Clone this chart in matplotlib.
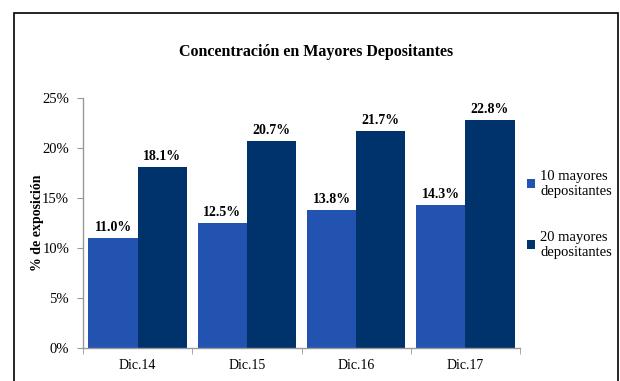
import matplotlib
matplotlib.use("Agg")
import matplotlib.pyplot as plt
from matplotlib.patches import Rectangle
import numpy as np

categories = ["Dic.14", "Dic.15", "Dic.16", "Dic.17"]
top10 = [11.0, 12.5, 13.8, 14.3]
top20 = [18.1, 20.7, 21.7, 22.8]
series_names = ["10 mayores\ndepositantes", "20 mayores\ndepositantes"]
yticks = [0, 5, 10, 15, 20, 25]

c_light = "#2353B0"
c_dark = "#00326B"

plt.rcParams["font.family"] = ["Liberation Serif", "DejaVu Serif"]

fig = plt.figure(figsize=(6.2, 3.81), dpi=100)
W, H = 620, 381

# outer frame
fig.patches.append(Rectangle((14 / W, -0.05), (618 - 14) / W, 1.05 - 13 / H,
                             transform=fig.transFigure, fill=False,
                             edgecolor="black", linewidth=1.2))

ax = fig.add_axes([83 / W, (H - 348) / H, (520 - 83) / W, (348 - 98) / H])

x = np.arange(len(categories))
bw = 0.45
b1 = ax.bar(x - bw / 2, top10, bw, color=c_light, label=series_names[0])
b2 = ax.bar(x + bw / 2, top20, bw, color=c_dark, label=series_names[1])

for bars, vals in ((b1, top10), (b2, top20)):
    for r, v in zip(bars, vals):
        ax.text(r.get_x() + r.get_width() / 2, v + 0.4, f"{v:.1f}%",
                ha="center", va="bottom", fontsize=10, fontweight="bold")

ax.set_xlim(-0.5, len(categories) - 0.5)
ax.set_ylim(0, 25)
ax.set_yticks(yticks)
ax.set_yticklabels([f"{t}%" for t in yticks], fontsize=10.5)
ax.set_xticks(x)
ax.set_xticklabels(categories, fontsize=10)
ax.tick_params(axis="x", length=0, pad=8)
ax.set_xticks(np.arange(-0.5, len(categories)), minor=True)
ax.tick_params(axis="x", which="minor", length=4, color="#999999", direction="out")
ax.tick_params(axis="y", length=4, color="#999999", direction="out", pad=6)

for s in ("top", "right"):
    ax.spines[s].set_visible(False)
for s in ("left", "bottom"):
    ax.spines[s].set_color("#999999")
    ax.spines[s].set_linewidth(1)

ax.set_ylabel("% de exposición", fontsize=10, fontweight="bold")
ax.yaxis.set_label_coords(-0.09, 0.5)

fig.text(316 / W, 1 - 52 / H, "Concentración en Mayores Depositantes",
         ha="center", va="center", fontsize=11.5, fontweight="bold")

leg = fig.legend(handles=[b1, b2], labels=series_names, loc="upper left",
                 bbox_to_anchor=(514 / W, 1 - 157 / H), frameon=False,
                 fontsize=10.5, handlelength=0.55, handleheight=0.55,
                 handletextpad=0.35, labelspacing=2.3)
for t in leg.get_texts():
    t.set_linespacing(1.15)

fig.savefig("out.png", dpi=100)
